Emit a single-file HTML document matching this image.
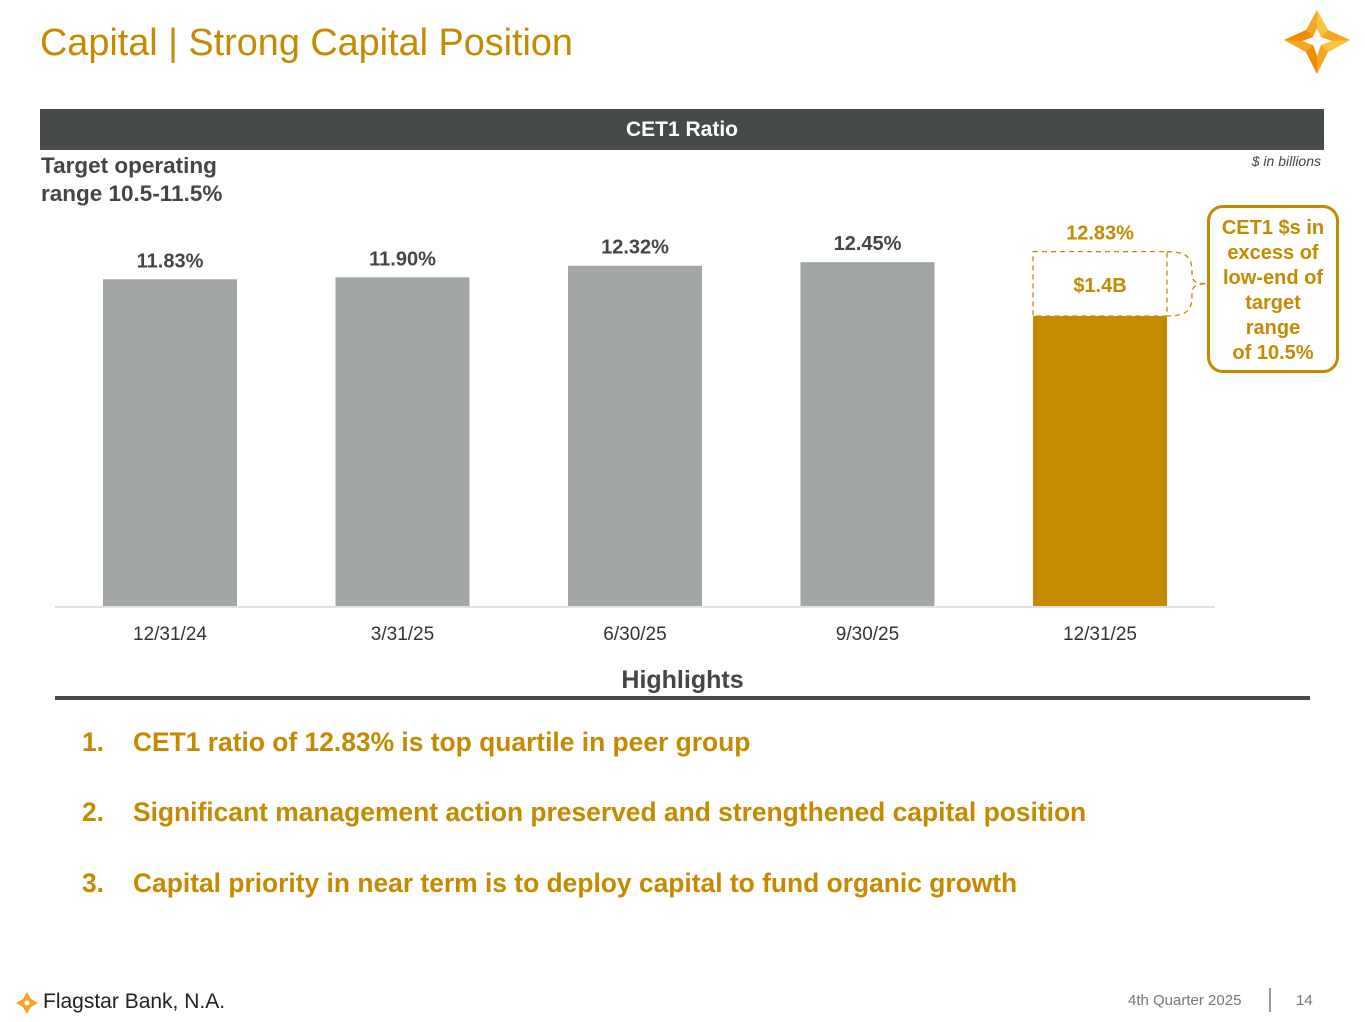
<!DOCTYPE html>
<html><head><meta charset="utf-8"><style>
body{margin:0;width:1365px;height:1022px;background:#fff;font-family:"Liberation Sans",Arial,sans-serif;position:relative;overflow:hidden}
.a{position:absolute}
</style></head><body>
<div class="a" style="left:40px;top:22px;font-size:37.8px;color:#c58a00">Capital | Strong Capital Position</div>
<svg class="a" style="left:1282px;top:8px" width="70" height="68" viewBox="0 0 70 68">
<path d="M35 2 L46 22 L68 32 L46 44 L35 66 L24 44 L2 32 L24 22 Z" fill="#f5a623"/>
<path d="M35 20 L39 29 L50 33 L39 37 L35 48 L31 37 L20 33 L31 29 Z" fill="#fff"/>
<path d="M35 2 L46 22 L39 29 L35 20 Z" fill="#fbc440"/><path d="M24 44 L31 37 L35 48 L35 66 Z" fill="#f08c00"/>
<path d="M68 32 L46 44 L39 37 L50 33 Z" fill="#fbc440"/><path d="M2 32 L24 22 L31 29 L20 33 Z" fill="#f08c00"/>
</svg>
<div class="a" style="left:40px;top:109px;width:1284px;height:41px;background:#464a4b;color:#fff;font-weight:bold;font-size:21px;text-align:center;line-height:41px">CET1 Ratio</div>
<div class="a" style="left:41px;top:152px;font-size:22.5px;font-weight:bold;color:#454545;line-height:28px">Target operating<br>range 10.5-11.5%</div>
<div class="a" style="right:44px;top:153px;font-size:14px;font-style:italic;color:#454545">$ in billions</div>
<svg class="a" id="chart" style="left:0;top:0" width="1365" height="660"></svg>
<div class="a" style="left:1207px;top:205px;width:126px;border:3px solid #c58a00;border-radius:16px;color:#c58a00;font-weight:bold;font-size:20px;text-align:center;line-height:25px;padding-top:8px;height:154px">CET1 $s in<br>excess of<br>low-end of<br>target<br>range<br>of 10.5%</div>
<div class="a" style="left:0;width:1365px;text-align:center;top:666px;font-size:25px;font-weight:bold;color:#454545">Highlights</div>
<div class="a" style="left:55px;top:696px;width:1255px;height:4px;background:#464a4b"></div>
<div class="a" style="left:82px;top:727px;font-size:26.4px;font-weight:bold;color:#c58a00"><span style="display:inline-block;width:51px">1.</span>CET1 ratio of 12.83% is top quartile in peer group</div>
<div class="a" style="left:82px;top:797px;font-size:26.4px;font-weight:bold;color:#c58a00"><span style="display:inline-block;width:51px">2.</span>Significant management action preserved and strengthened capital position</div>
<div class="a" style="left:82px;top:868px;font-size:26.4px;font-weight:bold;color:#c58a00"><span style="display:inline-block;width:51px">3.</span>Capital priority in near term is to deploy capital to fund organic growth</div>
<svg class="a" style="left:16px;top:992px" width="22" height="22" viewBox="0 0 22 22"><path d="M11 0 L15 7 L22 11 L15 15 L11 22 L7 15 L0 11 L7 7Z" fill="#f5a623"/><circle cx="11" cy="11" r="2.5" fill="#fff"/></svg>
<div class="a" style="left:43px;top:990px;font-size:21px;color:#222">Flagstar Bank, N.A.</div>
<div class="a" style="left:1128px;top:992px;font-size:15px;color:#777">4th Quarter 2025</div>
<div class="a" style="left:1269px;top:988px;width:2px;height:24px;background:#999"></div>
<div class="a" style="left:1296px;top:992px;font-size:15px;color:#777">14</div>
<script>
const categories=["12/31/24","3/31/25","6/30/25","9/30/25","12/31/25"];
const values=[11.83,11.90,12.32,12.45,12.83];
const valueLabels=["11.83%","11.90%","12.32%","12.45%","12.83%"];
const targetLow=[10.5];
const excessLabel=["$1.4B"];
const svg=document.getElementById('chart');
const NS="http://www.w3.org/2000/svg";
const base=606,scale=27.62,x0=103,step=232.5,bw=134;
const y=v=>base-v*scale;const x=i=>x0+i*step;
function mk(t,a){const e=document.createElementNS(NS,t);for(const k in a)e.setAttribute(k,a[k]);svg.appendChild(e);return e;}
const ax=mk('line',{x1:55,x2:1215,y1:base+1,y2:base+1,stroke:'#d9d9d9','stroke-width':1.5});


categories.forEach((c,i)=>{
 const last=i===categories.length-1;
 const v=values[i];
 if(!last){
  const r=mk('rect',{x:x(i),y:y(v),width:bw,height:base-y(v),fill:'#a3a6a7'});
  
  
 }else{
  const t=targetLow[0];
  const r=mk('rect',{x:x(i),y:y(t),width:bw,height:base-y(t),fill:'#c58a00'});
  
  
  const d=mk('rect',{x:x(i),y:y(v),width:bw,height:y(t)-y(v),fill:'none',stroke:'#c58a00','stroke-dasharray':'5 4','stroke-width':1.3});
  
  
  const el=mk('text',{x:x(i)+bw/2,y:(y(v)+y(t))/2+8,'text-anchor':'middle','font-size':20,'font-weight':'bold',fill:'#c58a00'});
  el.textContent=excessLabel[0];
  
  
  const bx=x(i)+bw, yt=y(v), yb=y(t);
  const br=mk('path',{d:`M${bx} ${yt} C${bx+25} ${yt} ${bx+25} ${yt+10} ${bx+25} ${(yt+yb)/2-8} Q${bx+25} ${(yt+yb)/2} ${bx+40} ${(yt+yb)/2} Q${bx+25} ${(yt+yb)/2} ${bx+25} ${(yt+yb)/2+8} C${bx+25} ${yb-10} ${bx+25} ${yb} ${bx} ${yb}`,fill:'none',stroke:'#c58a00','stroke-dasharray':'5 4','stroke-width':1.3});
  
  
 }
 const l=mk('text',{x:x(i)+bw/2,y:y(v)-12,'text-anchor':'middle','font-size':20,'font-weight':'bold',fill:last?'#c58a00':'#454545'});
 l.textContent=valueLabels[i];
 
 
 const cl=mk('text',{x:x(i)+bw/2,y:640,'text-anchor':'middle','font-size':19,fill:'#333'});
 cl.textContent=c;
 
 
});
</script>
</body></html>
